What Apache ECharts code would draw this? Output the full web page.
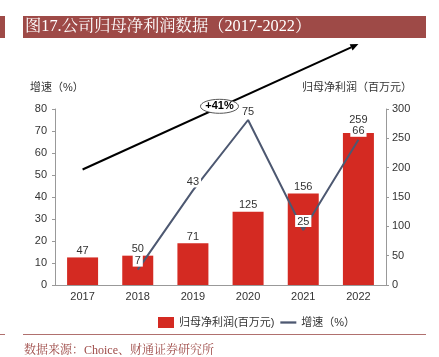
<!DOCTYPE html>
<html>
<head>
<meta charset="utf-8">
<script src="https://cdn.jsdelivr.net/npm/echarts@6/dist/echarts.min.js"></script>
<style>html,body{margin:0;padding:0;background:#fff;}#c{width:439px;height:357px;}</style>
</head>
<body>
<div id="c"></div>
<script>
const categories = ['2017', '2018', '2019', '2020', '2021', '2022'];
const profitValues = [47, 50, 71, 125, 156, 259];
const growthValues = ['-', 7, 43, 75, 25, 66];
const leftTicks = { min: 0, max: 80, interval: 10 };
const rightTicks = { min: 0, max: 300, interval: 50 };
const arrowStart = [0, 52.5];
const arrowEnd = [5, 109.5];
const badgeText = '+41%';

const chart = echarts.init(document.getElementById('c'), null, { renderer: 'canvas' });
const sans = '"Liberation Sans", Arial, "Noto Sans CJK SC", sans-serif';
const serif = '"Liberation Serif", "Noto Serif CJK SC", "Noto Sans CJK SC", serif';
const txt = '#333';

const barData = profitValues.map((v, i) => i === 5 ? { value: v, label: { distance: 8 } } : v);

chart.setOption({
  animation: false,
  textStyle: { fontFamily: sans },
  grid: { left: 55, right: 53, top: 109, bottom: 72 },
  legend: {
    left: 153, top: 312, itemWidth: 16, itemHeight: 11, itemGap: 6,
    textStyle: { fontSize: 11, color: txt, fontFamily: sans },
    data: [
      { name: '归母净利润(百万元)', icon: 'rect' },
      { name: '增速（%）', icon: 'path://M0,0H14V2H0Z' }
    ]
  },
  xAxis: {
    type: 'category', data: categories,
    axisLine: { lineStyle: { color: '#999' } },
    axisTick: { show: false },
    axisLabel: { color: txt, fontSize: 11, margin: 6 }
  },
  yAxis: [
    {
      type: 'value', min: leftTicks.min, max: leftTicks.max, interval: leftTicks.interval,
      position: 'left',
      axisLine: { show: true, lineStyle: { color: '#999' } },
      axisTick: { show: true, length: 3, lineStyle: { color: '#999' } },
      splitLine: { show: false },
      axisLabel: { color: txt, fontSize: 11, margin: 8 }
    },
    {
      type: 'value', min: rightTicks.min, max: rightTicks.max, interval: rightTicks.interval,
      position: 'right',
      axisLine: { show: true, lineStyle: { color: '#999' } },
      axisTick: { show: true, length: 3, lineStyle: { color: '#999' } },
      splitLine: { show: false },
      axisLabel: { color: txt, fontSize: 11, margin: 6 }
    }
  ],
  series: [
    {
      name: '归母净利润(百万元)', type: 'bar', yAxisIndex: 1, data: barData,
      barWidth: 31,
      itemStyle: { color: '#d42a22' },
      label: { show: true, position: 'top', distance: 1, color: txt, fontSize: 11 },
      z: 2
    },
    {
      name: '增速（%）', type: 'line', yAxisIndex: 0, data: growthValues,
      symbol: 'circle', symbolSize: 0, showSymbol: true,
      lineStyle: { color: '#4d5871', width: 2 },
      itemStyle: { color: '#4d5871' },
      label: {
        show: true, position: 'top', distance: 3, color: txt, fontSize: 11,
        backgroundColor: '#fff', padding: [1, 2, 0, 2]
      },
      z: 3
    }
  ]
});

const p0 = chart.convertToPixel({ xAxisIndex: 0, yAxisIndex: 0 }, arrowStart);
const p1 = chart.convertToPixel({ xAxisIndex: 0, yAxisIndex: 0 }, arrowEnd);
const ang = Math.atan2(p1[1] - p0[1], p1[0] - p0[0]);
const ah = 8, aw = 3.5;
const base = [p1[0] - ah * Math.cos(ang), p1[1] - ah * Math.sin(ang)];
const head = [
  p1,
  [base[0] + aw * Math.sin(ang), base[1] - aw * Math.cos(ang)],
  [base[0] - aw * Math.sin(ang), base[1] + aw * Math.cos(ang)]
];
const mid = [(p0[0] + p1[0]) / 2 - 1, (p0[1] + p1[1]) / 2 - 0.5];

chart.setOption({
  graphic: [
    { type: 'rect', shape: { x: 0, y: 16, width: 5, height: 22 }, style: { fill: '#9e4a47' } },
    { type: 'rect', shape: { x: 23, y: 16, width: 403, height: 22 }, style: { fill: '#9e4a47' } },
    { type: 'text', x: 25, y: 27, style: { text: '图17.公司归母净利润数据（2017-2022）', fill: '#fff', font: '16.3px ' + serif, verticalAlign: 'middle' } },
    { type: 'text', x: 30, y: 88, style: { text: '增速（%）', fill: txt, font: '11px ' + sans, verticalAlign: 'middle' } },
    { type: 'text', x: 412, y: 88, style: { text: '归母净利润（百万元）', fill: txt, font: '11px ' + sans, verticalAlign: 'middle', align: 'right' } },
    { type: 'line', shape: { x1: p0[0], y1: p0[1], x2: base[0], y2: base[1] }, style: { stroke: '#000', lineWidth: 2 }, z: 10 },
    { type: 'polygon', shape: { points: head }, style: { fill: '#000' }, z: 10 },
    { type: 'ellipse', shape: { cx: mid[0], cy: mid[1], rx: 19, ry: 7 }, style: { fill: '#fff', stroke: '#555', lineWidth: 1 }, z: 11 },
    { type: 'text', x: mid[0], y: mid[1], style: { text: badgeText, fill: '#000', font: 'bold 11px ' + sans, align: 'center', verticalAlign: 'middle' }, z: 12 },
    { type: 'rect', shape: { x: 0, y: 334, width: 5, height: 1 }, style: { fill: '#b0706e' } },
    { type: 'rect', shape: { x: 23, y: 334, width: 403, height: 1 }, style: { fill: '#b0706e' } },
    { type: 'text', x: 24, y: 351, style: { text: '数据来源：Choice、财通证券研究所', fill: '#9e4a47', font: '12px ' + serif, verticalAlign: 'middle' } }
  ]
});
</script>
</body>
</html>
